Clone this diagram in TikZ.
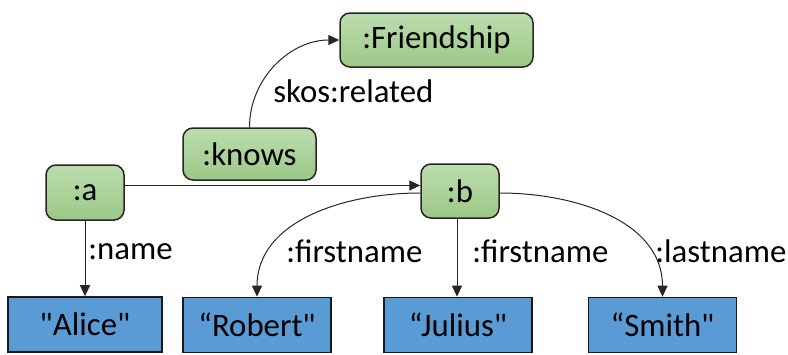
\documentclass[tikz,border=0pt]{standalone}
\usepackage{fontspec}
\setmainfont{Carlito}[Ligatures=TeXOff]
\usetikzlibrary{arrows.meta}
\definecolor{litblue}{HTML}{5B9BD5}
\definecolor{gtop}{HTML}{BCDDAE}
\definecolor{gbot}{HTML}{9CC886}
\begin{document}
\begin{tikzpicture}[x=0.5pt,y=-0.5pt,
  every node/.style={font=\fontsize{16.4}{19}\selectfont, inner sep=0pt},
  cls/.style={draw=black!85, line width=0.75pt, rounded corners=5pt,
    top color=gtop, bottom color=gbot, minimum height=27pt},
  lit/.style={draw=black!90, line width=0.8pt, fill=litblue, minimum height=27.5pt, minimum width=74pt},
  rel/.style={draw=black!85, line width=0.5pt, -{Triangle[length=5.5pt,width=5pt]}},
  lab/.style={anchor=base west}
]
\useasboundingbox (0,0) rectangle (788,354);
\node[cls, minimum width=96.5pt] (fr) at (436.5,40) {:Friendship};
\node[cls, minimum width=66.5pt, minimum height=26pt] (kn) at (249.5,154) {:knows};
\node[cls, minimum width=39pt, minimum height=27.5pt] (a) at (85,192.5) {:a};
\node[cls, minimum width=39pt] (b) at (460,191) {:b};
\node[lit, minimum width=77pt] (alice) at (85,324.5) {"Alice"};
\node[lit] (robert) at (257,325) {“Robert"};
\node[lit] (julius) at (458,325) {“Julius"};
\node[lit] (smith) at (662.5,325) {“Smith"};
\draw[rel] (kn.north) to[out=90,in=180] (fr.west);
\draw[rel] ([yshift=3.5pt]a.east) -- ([yshift=3.5pt]a.east -| b.west);
\draw[rel] (a.south) -- (alice.north);
\draw[rel] ([yshift=-1pt]b.west) to[out=180,in=90] (robert.north);
\draw[rel] ([xshift=-1.5pt]b.south) -- ([xshift=-1.5pt]b.south |- julius.north);
\draw[rel] ([yshift=-1pt]b.east) to[out=0,in=90] (smith.north);
\node[lab] (l1) at (273,102) {skos:related};
\node[lab] (l2) at (88,259) {:name};
\node[lab] (l3) at (286,262) {:firstname};
\node[lab] (l4) at (472,262) {:firstname};
\node[lab] (l5) at (655,262) {:lastname};
\end{tikzpicture}
\end{document}
